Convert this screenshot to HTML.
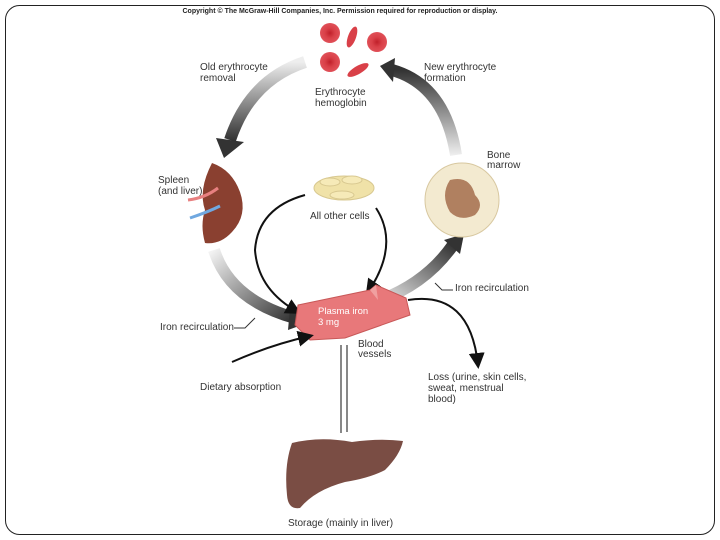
<!DOCTYPE html>
<html><head><style>
body{margin:0;background:#fff;}
svg{display:block;font-family:"Liberation Sans",sans-serif;}
</style></head><body>
<svg width="720" height="540" viewBox="0 0 720 540">
<defs>
<linearGradient id="gl" x1="0" y1="0" x2="0" y2="1"><stop offset="0" stop-color="#eee"/><stop offset="1" stop-color="#333"/></linearGradient>
<linearGradient id="gr" x1="0" y1="1" x2="0" y2="0"><stop offset="0" stop-color="#eee"/><stop offset="1" stop-color="#333"/></linearGradient>
<linearGradient id="gll" x1="0" y1="0" x2="1" y2="1"><stop offset="0" stop-color="#f2f2f2"/><stop offset="1" stop-color="#333"/></linearGradient>
<linearGradient id="glr" x1="0" y1="1" x2="1" y2="0"><stop offset="0" stop-color="#f2f2f2"/><stop offset="1" stop-color="#333"/></linearGradient>
<radialGradient id="rbc"><stop offset="0" stop-color="#c0202a"/><stop offset="0.5" stop-color="#d94048"/><stop offset="1" stop-color="#e05058"/></radialGradient>
<marker id="ah" markerWidth="8" markerHeight="8" refX="6" refY="4" orient="auto"><path d="M0,0 L8,4 L0,8 z" fill="#111"/></marker>
</defs>
<rect x="5.5" y="5.5" width="709" height="529" rx="14" fill="#fff" stroke="#222" stroke-width="1"/>
<text x="340" y="13" font-size="7" font-weight="bold" text-anchor="middle" fill="#222">Copyright © The McGraw-Hill Companies, Inc. Permission required for reproduction or display.</text>
<circle cx="330" cy="33" r="10" fill="url(#rbc)"/>
<ellipse cx="352" cy="37" rx="4" ry="11" transform="rotate(20 352 37)" fill="#d94048"/>
<circle cx="377" cy="42" r="10" fill="url(#rbc)"/>
<circle cx="330" cy="62" r="10" fill="url(#rbc)"/>
<ellipse cx="358" cy="70" rx="12" ry="4" transform="rotate(-30 358 70)" fill="#d94048"/>
<g font-size="10" fill="#333">
<text x="200" y="70">Old erythrocyte</text><text x="200" y="81">removal</text>
<text x="315" y="95">Erythrocyte</text><text x="315" y="106">hemoglobin</text>
<text x="424" y="70">New erythrocyte</text><text x="424" y="81">formation</text>
<text x="158" y="183">Spleen</text><text x="158" y="194">(and liver)</text>
<text x="487" y="158">Bone</text><text x="487" y="168">marrow</text>
<text x="310" y="219">All other cells</text>
<text x="455" y="291">Iron recirculation</text>
<text x="160" y="330">Iron recirculation</text>
<text x="358" y="347">Blood</text><text x="358" y="357">vessels</text>
<text x="200" y="390">Dietary absorption</text>
<text x="428" y="380">Loss (urine, skin cells,</text><text x="428" y="391">sweat, menstrual</text><text x="428" y="402">blood)</text>
<text x="288" y="526">Storage (mainly in liver)</text>
</g>
<path d="M305,62 Q250,80 230,140" stroke="url(#gl)" stroke-width="12" fill="none"/>
<path d="M216,138 L244,142 L224,158 z" fill="#333"/>
<path d="M456,155 Q445,85 392,70" stroke="url(#gr)" stroke-width="12" fill="none"/>
<path d="M395,58 L380,66 L393,82 z" fill="#333"/>
<path d="M214,250 Q230,300 295,318" stroke="url(#gll)" stroke-width="12" fill="none"/>
<path d="M290,308 L310,322 L288,330 z" fill="#333"/>
<path d="M375,302 Q425,285 453,245" stroke="url(#glr)" stroke-width="12" fill="none"/>
<path d="M444,240 L464,234 L460,254 z" fill="#333"/>
<path d="M255,318 L245,328 L234,328" stroke="#333" fill="none"/>
<path d="M435,283 L442,290 L453,290" stroke="#333" fill="none"/>
<path d="M212,163 Q232,170 240,192 Q248,215 232,232 Q220,245 205,243 Q200,225 205,210 Q198,190 212,163 z" fill="#8a4030"/>
<path d="M188,200 Q205,198 218,188" stroke="#e88080" stroke-width="3" fill="none"/>
<path d="M190,218 Q208,212 220,206" stroke="#70a8e0" stroke-width="3" fill="none"/>
<circle cx="462" cy="200" r="37" fill="#f3ead0" stroke="#d8c8a0"/>
<path d="M450,180 Q470,175 475,195 Q485,205 475,215 Q460,222 450,212 Q440,195 450,180 z" fill="#b08060"/>
<ellipse cx="344" cy="188" rx="30" ry="12" fill="#f0e2a8" stroke="#d8c890"/>
<ellipse cx="330" cy="182" rx="10" ry="4" fill="#f6eab8" stroke="#d8c890"/>
<ellipse cx="352" cy="180" rx="10" ry="4" fill="#f6eab8" stroke="#d8c890"/>
<ellipse cx="342" cy="195" rx="12" ry="4" fill="#f6eab8" stroke="#d8c890"/>
<path d="M305,195 Q258,208 255,250 Q258,290 298,312" stroke="#111" stroke-width="2" fill="none" marker-end="url(#ah)"/>
<path d="M376,208 Q400,245 368,292" stroke="#111" stroke-width="2" fill="none" marker-end="url(#ah)"/>
<path d="M298,305 L370,290 L376,285 L406,298 L410,315 L345,338 L310,340 L295,325 z" fill="#e8787a" stroke="#c85858"/>
<path d="M370,290 L376,285 L378,300" fill="#f0a0a0"/>
<g font-size="9.5" fill="#fff"><text x="318" y="314">Plasma iron</text><text x="318" y="325">3 mg</text></g>
<path d="M232,362 Q270,345 310,336" stroke="#111" stroke-width="2" fill="none" marker-end="url(#ah)"/>
<path d="M408,300 Q470,290 478,365" stroke="#111" stroke-width="2" fill="none" marker-end="url(#ah)"/>
<line x1="341" y1="345" x2="341" y2="433" stroke="#111"/>
<line x1="347" y1="345" x2="347" y2="432" stroke="#111"/>
<path d="M292,443 Q320,436 352,442 Q380,438 403,441 Q400,455 385,470 Q370,478 345,482 Q315,490 300,508 Q288,510 287,495 Q284,465 292,443 z" fill="#7a4d44"/>
</svg>
</body></html>
